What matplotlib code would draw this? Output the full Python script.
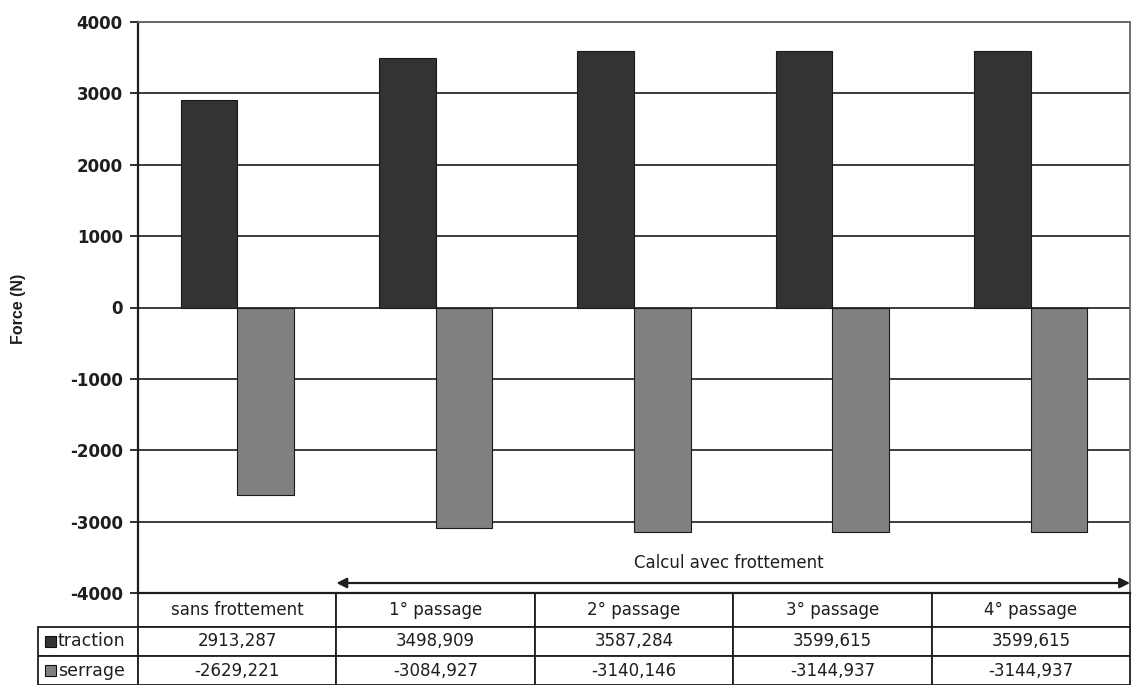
import numpy as np
import matplotlib
matplotlib.use("Agg")
import matplotlib.pyplot as plt
from matplotlib.patches import Rectangle

plt.rcParams['font.family'] = ['DejaVu Sans']
plt.rcParams['axes.unicode_minus'] = False

categories = ["sans frottement", "1° passage", "2° passage", "3° passage", "4° passage"]
traction = [2913.287, 3498.909, 3587.284, 3599.615, 3599.615]
serrage = [-2629.221, -3084.927, -3140.146, -3144.937, -3144.937]
series_names = ["traction", "serrage"]
col_traction = "#333333"
col_serrage = "#808080"
txt = "#1e1e1e"

fig = plt.figure(figsize=(11.32, 6.85), dpi=100)
ax = fig.add_axes([138/1132, 1-593/685, 992/1132, 571/685])

x = np.arange(len(categories))
w = 0.285
ax.bar(x - w/2, traction, w, color=col_traction, edgecolor="#1a1a1a", linewidth=0.8, zorder=3)
ax.bar(x + w/2, serrage, w, color=col_serrage, edgecolor="#1a1a1a", linewidth=0.8, zorder=3)

ax.set_xlim(-0.5, len(categories) - 0.5)
ax.set_ylim(-4000, 4000)
ax.set_yticks(np.arange(-4000, 4001, 1000))
ax.set_xticks([])
ax.tick_params(axis='y', labelsize=12, length=6, width=1.3, colors=txt, pad=5)
for lab in ax.get_yticklabels():
    lab.set_fontweight("bold")
ax.grid(axis='y', color="#1a1a1a", linewidth=1.2, zorder=1)
for s in ["top", "right"]:
    ax.spines[s].set_color("#666666")
    ax.spines[s].set_linewidth(1.3)
    ax.spines[s].set_linestyle((0, (1.5, 1)))
ax.spines["left"].set_linewidth(1.6)
ax.spines["bottom"].set_linewidth(1.6)
ax.spines["left"].set_color(txt)
ax.spines["bottom"].set_color(txt)
fig.text(19/1132, 1-309/685, "Force (N)", rotation=90, ha="center", va="center",
         fontsize=11.5, fontweight="bold", color=txt, family="Liberation Sans")

# arrow "Calcul avec frottement"
ax.annotate("", xy=(len(categories) - 0.5, -3860), xytext=(0.5, -3860),
            arrowprops=dict(arrowstyle="<|-|>", color=txt, lw=1.6,
                            mutation_scale=15, shrinkA=0, shrinkB=0))
ax.text(2.48, -3580, "Calcul avec frottement",
        ha="center", va="center", fontsize=12, color=txt)

# data table
def fmt(v):
    return f"{v:.3f}".replace(".", ",")

cell_text = [[series_names[0]] + [fmt(v) for v in traction],
             [series_names[1]] + [fmt(v) for v in serrage]]
col_labels = [""] + categories
widths = np.array([100] + [198.4] * len(categories))
x0 = -100 / 992
tab = ax.table(cellText=cell_text, colLabels=col_labels,
               colWidths=list(widths / widths.sum()),
               cellLoc="center", bbox=[x0, -(685-593)/571, 1 - x0, (685-593)/571])
tab.auto_set_font_size(False)
tab.set_fontsize(12)
for (r, c), cell in tab.get_celld().items():
    cell.set_edgecolor(txt)
    cell.set_linewidth(1.3)
    cell.get_text().set_color(txt)
    cell.set_height(34 if r == 0 else 29)
    if r == 0 and c == 0:
        cell.visible_edges = ""
    if c == 0 and r > 0:
        cell.get_text().set_ha("left")
        cell.PAD = 0.2
        cell.get_text().set_fontsize(12.5)

# legend squares in row label cells
for i, col in enumerate([col_traction, col_serrage]):
    yc = -(627 - 593 + 29 * i + 14.5) / 571
    ax.add_patch(Rectangle((x0 + 7/992, yc - 5.5/571), 11/992, 11/571,
                           transform=ax.transAxes, clip_on=False,
                           facecolor=col, edgecolor="#111111", linewidth=0.8))

fig.savefig("out.png", dpi=100)
